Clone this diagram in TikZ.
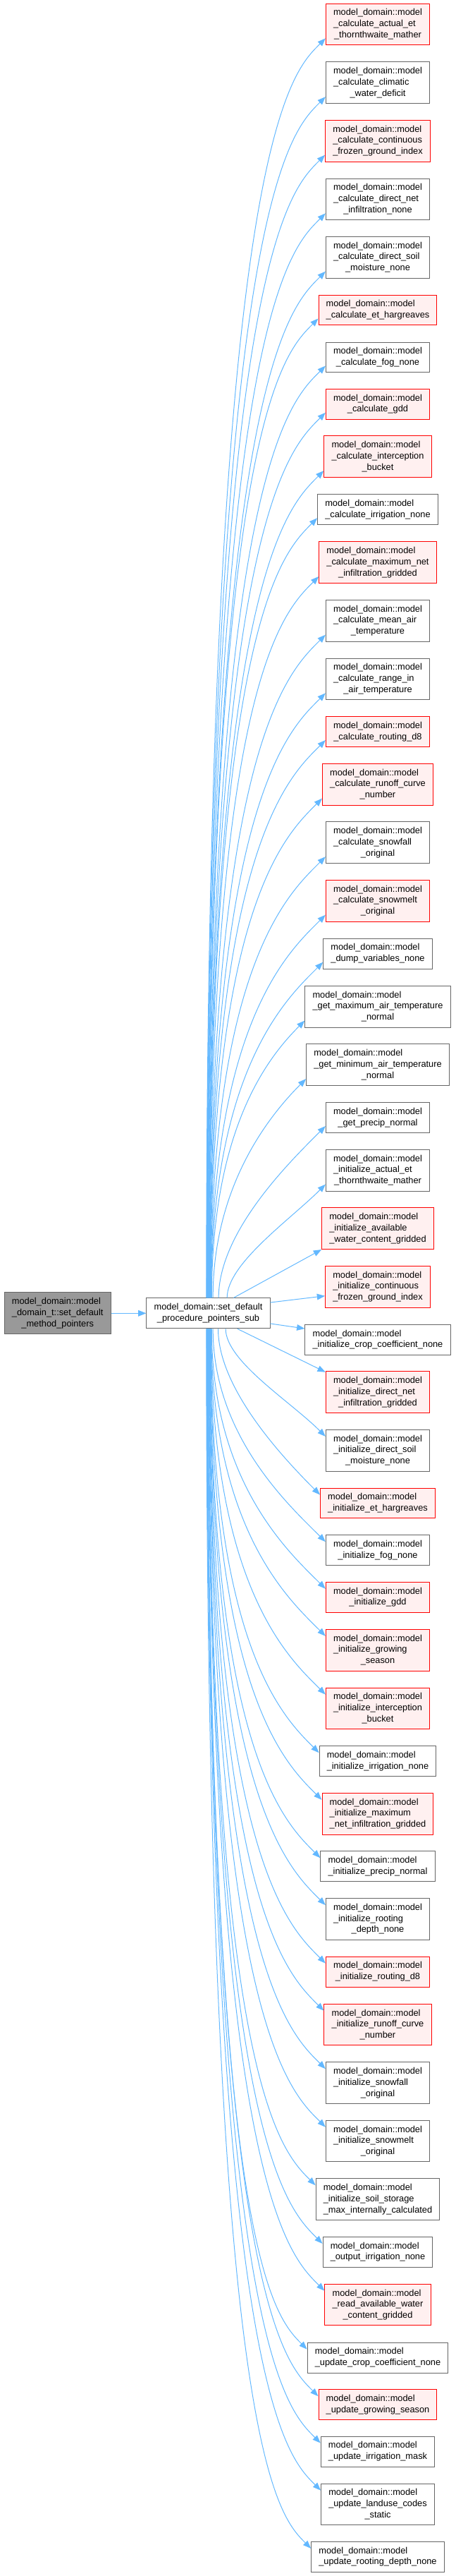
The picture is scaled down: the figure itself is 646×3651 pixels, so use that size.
\documentclass[tikz,border=0pt]{standalone}
\usepackage{fontspec}
\setmainfont{Liberation Sans}
\usepackage{tikz}
\usetikzlibrary{arrows.meta,calc}

\definecolor{fnedge}{HTML}{666666}
\definecolor{fnpink}{HTML}{FFF0F0}
\definecolor{fngrey}{HTML}{999999}
\definecolor{callblue}{HTML}{63B8FF}

% label: all lines left aligned, the last one centred
\newcommand{\lbl}[2]{\begin{tabular}{@{}l@{}}#1\\\multicolumn{1}{@{}c@{}}{#2}\end{tabular}}

\tikzset{
  fn/.style={draw=fnedge, fill=white, line width=0.75pt, inner xsep=8pt, inner ysep=4.3pt,
    font={\fontsize{9.6}{11.8}\selectfont}},
  fnred/.style={fn, draw=red, fill=fnpink},
  fnroot/.style={fn, fill=fngrey},
  call/.style={draw=callblue, line width=0.75pt, -{Triangle[length=8.5pt,width=6.5pt]}},
  callup/.style={call, to path={let \p1=(\tikztostart), \p2=([yshift=7.5pt]\tikztotarget.south west),
    \n1={min(112,0.7*(\y2-\y1))} in
    .. controls (\x1,\y2-\n1) and (\x2-37.5pt,\y2-37.5pt) .. (\p2)}},
  calldown/.style={call, to path={let \p1=(\tikztostart), \p2=([yshift=-7.5pt]\tikztotarget.north west),
    \n1={min(112,0.7*(\y1-\y2))} in
    .. controls (\x1,\y2+\n1) and (\x2-37.5pt,\y2+37.5pt) .. (\p2)}},
}

\begin{document}
\begin{tikzpicture}[x=0.75pt, y=-0.75pt]
    \useasboundingbox (0,0) rectangle (646,3651);

    % Define nodes
    \node[fnroot] (D1) at (81.7,1861.3) {\lbl{model\_domain::model\\\_domain\_t::set\_default}{\_method\_pointers}};
    \node[fn] (P1) at (295.5,1861.3) {\lbl{model\_domain::set\_default}{\_procedure\_pointers\_sub}};

    \node[fnred] (F1) at (536,34.5) {\lbl{model\_domain::model\\\_calculate\_actual\_et}{\_thornthwaite\_mather}};
    \node[fn] (F2) at (536,117.3) {\lbl{model\_domain::model\\\_calculate\_climatic}{\_water\_deficit}};
    \node[fnred] (F3) at (536,199.8) {\lbl{model\_domain::model\\\_calculate\_continuous}{\_frozen\_ground\_index}};
    \node[fn] (F4) at (536,282.5) {\lbl{model\_domain::model\\\_calculate\_direct\_net}{\_infiltration\_none}};
    \node[fn] (F5) at (536,364.8) {\lbl{model\_domain::model\\\_calculate\_direct\_soil}{\_moisture\_none}};
    \node[fnred] (F6) at (536,439.5) {\lbl{model\_domain::model}{\_calculate\_et\_hargreaves}};
    \node[fn] (F7) at (536,506.5) {\lbl{model\_domain::model}{\_calculate\_fog\_none}};
    \node[fnred] (F8) at (536,572.8) {\lbl{model\_domain::model}{\_calculate\_gdd}};
    \node[fnred] (F9) at (536,647.3) {\lbl{model\_domain::model\\\_calculate\_interception}{\_bucket}};
    \node[fn] (F10) at (536,722.3) {\lbl{model\_domain::model}{\_calculate\_irrigation\_none}};
    \node[fnred] (F11) at (536,797.2) {\lbl{model\_domain::model\\\_calculate\_maximum\_net}{\_infiltration\_gridded}};
    \node[fn] (F12) at (536,879.8) {\lbl{model\_domain::model\\\_calculate\_mean\_air}{\_temperature}};
    \node[fn] (F13) at (536,962.5) {\lbl{model\_domain::model\\\_calculate\_range\_in}{\_air\_temperature}};
    \node[fnred] (F14) at (536,1037) {\lbl{model\_domain::model}{\_calculate\_routing\_d8}};
    \node[fnred] (F15) at (536,1111.8) {\lbl{model\_domain::model\\\_calculate\_runoff\_curve}{\_number}};
    \node[fn] (F16) at (536,1194.3) {\lbl{model\_domain::model\\\_calculate\_snowfall}{\_original}};
    \node[fnred] (F17) at (536,1276.8) {\lbl{model\_domain::model\\\_calculate\_snowmelt}{\_original}};
    \node[fn] (F18) at (536,1351.7) {\lbl{model\_domain::model}{\_dump\_variables\_none}};
    \node[fn] (F19) at (536,1426.7) {\lbl{model\_domain::model\\\_get\_maximum\_air\_temperature}{\_normal}};
    \node[fn] (F20) at (536,1509.3) {\lbl{model\_domain::model\\\_get\_minimum\_air\_temperature}{\_normal}};
    \node[fn] (F21) at (536,1584) {\lbl{model\_domain::model}{\_get\_precip\_normal}};
    \node[fn] (F22) at (536,1658.7) {\lbl{model\_domain::model\\\_initialize\_actual\_et}{\_thornthwaite\_mather}};
    \node[fnred] (F23) at (536,1741.2) {\lbl{model\_domain::model\\\_initialize\_available}{\_water\_content\_gridded}};
    \node[fnred] (F24) at (536,1823.7) {\lbl{model\_domain::model\\\_initialize\_continuous}{\_frozen\_ground\_index}};
    \node[fn] (F25) at (536,1898.7) {\lbl{model\_domain::model}{\_initialize\_crop\_coefficient\_none}};
    \node[fnred] (F26) at (536,1973.2) {\lbl{model\_domain::model\\\_initialize\_direct\_net}{\_infiltration\_gridded}};
    \node[fn] (F27) at (536,2055.8) {\lbl{model\_domain::model\\\_initialize\_direct\_soil}{\_moisture\_none}};
    \node[fnred] (F28) at (536,2130.5) {\lbl{model\_domain::model}{\_initialize\_et\_hargreaves}};
    \node[fn] (F29) at (536,2197.2) {\lbl{model\_domain::model}{\_initialize\_fog\_none}};
    \node[fnred] (F30) at (536,2263.8) {\lbl{model\_domain::model}{\_initialize\_gdd}};
    \node[fnred] (F31) at (536,2338.7) {\lbl{model\_domain::model\\\_initialize\_growing}{\_season}};
    \node[fnred] (F32) at (536,2421.5) {\lbl{model\_domain::model\\\_initialize\_interception}{\_bucket}};
    \node[fn] (F33) at (536,2496.2) {\lbl{model\_domain::model}{\_initialize\_irrigation\_none}};
    \node[fnred] (F34) at (536,2570.7) {\lbl{model\_domain::model\\\_initialize\_maximum}{\_net\_infiltration\_gridded}};
    \node[fn] (F35) at (536,2645.2) {\lbl{model\_domain::model}{\_initialize\_precip\_normal}};
    \node[fn] (F36) at (536,2720) {\lbl{model\_domain::model\\\_initialize\_rooting}{\_depth\_none}};
    \node[fnred] (F37) at (536,2794.6) {\lbl{model\_domain::model}{\_initialize\_routing\_d8}};
    \node[fnred] (F38) at (536,2869.6) {\lbl{model\_domain::model\\\_initialize\_runoff\_curve}{\_number}};
    \node[fn] (F39) at (536,2952.1) {\lbl{model\_domain::model\\\_initialize\_snowfall}{\_original}};
    \node[fn] (F40) at (536,3034.6) {\lbl{model\_domain::model\\\_initialize\_snowmelt}{\_original}};
    \node[fn] (F41) at (536,3117.1) {\lbl{model\_domain::model\\\_initialize\_soil\_storage}{\_max\_internally\_calculated}};
    \node[fn] (F42) at (536,3191.9) {\lbl{model\_domain::model}{\_output\_irrigation\_none}};
    \node[fnred] (F43) at (536,3266.6) {\lbl{model\_domain::model\\\_read\_available\_water}{\_content\_gridded}};
    \node[fn] (F44) at (536,3341.6) {\lbl{model\_domain::model}{\_update\_crop\_coefficient\_none}};
    \node[fnred] (F45) at (536,3408.2) {\lbl{model\_domain::model}{\_update\_growing\_season}};
    \node[fn] (F46) at (536,3474.5) {\lbl{model\_domain::model}{\_update\_irrigation\_mask}};
    \node[fn] (F47) at (536,3549.5) {\lbl{model\_domain::model\\\_update\_landuse\_codes}{\_static}};
    \node[fn] (F48) at (536,3623.9) {\lbl{model\_domain::model}{\_update\_rooting\_depth\_none}};

    % Draw arrows
    \draw[call] (D1) -- (P1);

    % upwards, the farthest leaves leftmost
    \draw[callup] ([xshift=-2pt]P1.north) to (F1);
    \draw[callup] ([xshift=-1.7pt]P1.north) to (F2);
    \draw[callup] ([xshift=-1.4pt]P1.north) to (F3);
    \draw[callup] ([xshift=-1.1pt]P1.north) to (F4);
    \draw[callup] ([xshift=-0.8pt]P1.north) to (F5);
    \draw[callup] ([xshift=-0.5pt]P1.north) to (F6);
    \draw[callup] ([xshift=-0.2pt]P1.north) to (F7);
    \draw[callup] ([xshift=0.1pt]P1.north) to (F8);
    \draw[callup] ([xshift=0.4pt]P1.north) to (F9);
    \draw[callup] ([xshift=0.7pt]P1.north) to (F10);
    \draw[callup] ([xshift=1pt]P1.north) to (F11);
    \draw[callup] ([xshift=1.3pt]P1.north) to (F12);
    \draw[callup] ([xshift=1.6pt]P1.north) to (F13);
    \draw[callup] ([xshift=1.9pt]P1.north) to (F14);
    \draw[callup] ([xshift=2.2pt]P1.north) to (F15);
    \draw[callup] ([xshift=2.5pt]P1.north) to (F16);
    \draw[callup] ([xshift=2.8pt]P1.north) to (F17);
    \draw[callup] ([xshift=3.1pt]P1.north) to (F18);
    \draw[callup] ([xshift=3.6pt]P1.north) to (F19);
    \draw[callup] ([xshift=5pt]P1.north) to (F20);
    \draw[callup] ([xshift=11pt]P1.north) to (F21);
    \draw[callup] ([xshift=20pt]P1.north) to (F22);

    % the near ones go almost straight
    \draw[call] ([xshift=27pt]P1.north) -- (F23.south west);
    \draw[call] ([yshift=-5pt]P1.north east) -- ([yshift=-9.75pt]F24.west);
    \draw[call] ([yshift=5.5pt]P1.south east) -- ([yshift=11.75pt]F25.west);
    \draw[call] ([xshift=31pt]P1.south) -- ([yshift=-1pt]F26.north west);

    % downwards
    \draw[calldown] ([xshift=18.5pt]P1.south) to (F27);
    \draw[calldown] ([xshift=10.5pt]P1.south) to (F28);
    \draw[calldown] ([xshift=5pt]P1.south) to (F29);
    \draw[calldown] ([xshift=3.6pt]P1.south) to (F30);
    \draw[calldown] ([xshift=3.1pt]P1.south) to (F31);
    \draw[calldown] ([xshift=2.8pt]P1.south) to (F32);
    \draw[calldown] ([xshift=2.5pt]P1.south) to (F33);
    \draw[calldown] ([xshift=2.2pt]P1.south) to (F34);
    \draw[calldown] ([xshift=1.9pt]P1.south) to (F35);
    \draw[calldown] ([xshift=1.6pt]P1.south) to (F36);
    \draw[calldown] ([xshift=1.3pt]P1.south) to (F37);
    \draw[calldown] ([xshift=1pt]P1.south) to (F38);
    \draw[calldown] ([xshift=0.7pt]P1.south) to (F39);
    \draw[calldown] ([xshift=0.4pt]P1.south) to (F40);
    \draw[calldown] ([xshift=0.1pt]P1.south) to (F41);
    \draw[calldown] ([xshift=-0.2pt]P1.south) to (F42);
    \draw[calldown] ([xshift=-0.5pt]P1.south) to (F43);
    \draw[calldown] ([xshift=-0.8pt]P1.south) to (F44);
    \draw[calldown] ([xshift=-1.1pt]P1.south) to (F45);
    \draw[calldown] ([xshift=-1.4pt]P1.south) to (F46);
    \draw[calldown] ([xshift=-1.7pt]P1.south) to (F47);
    \draw[calldown] ([xshift=-2pt]P1.south) to (F48);
\end{tikzpicture}
\end{document}
